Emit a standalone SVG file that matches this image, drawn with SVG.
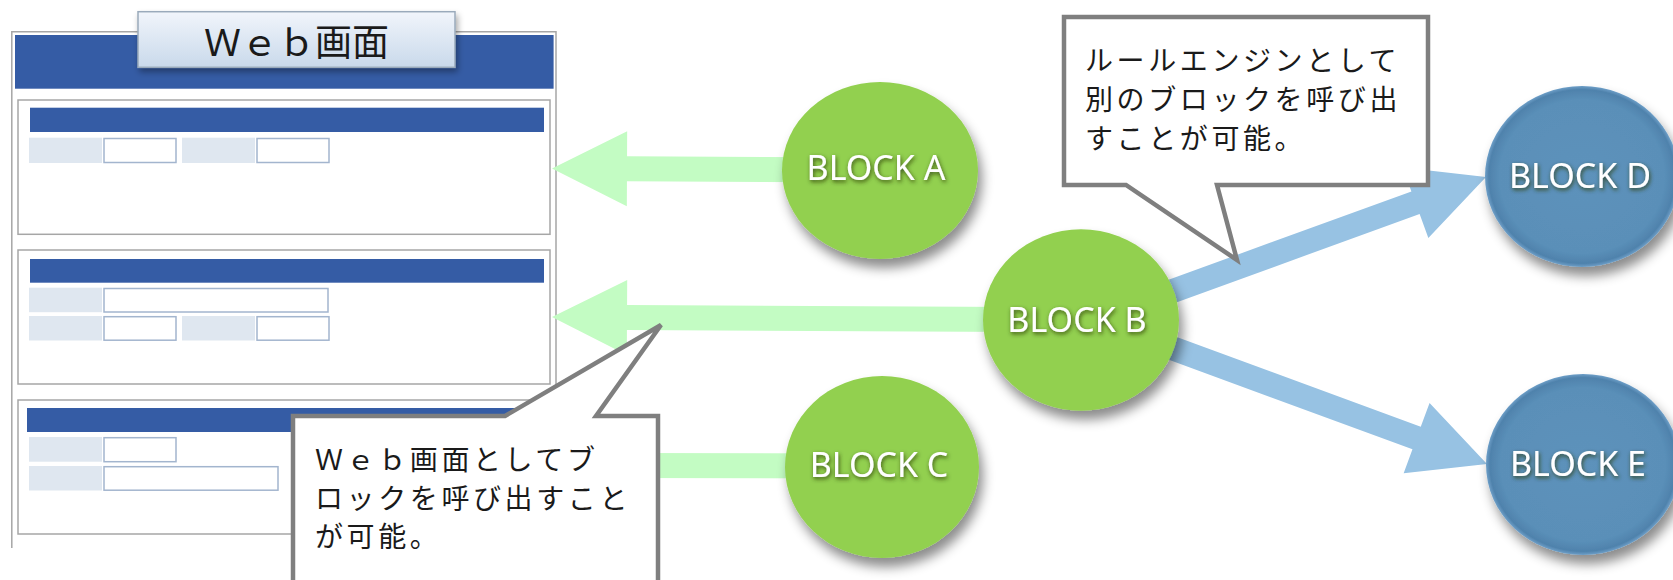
<svg xmlns="http://www.w3.org/2000/svg" width="1673" height="580" viewBox="0 0 1673 580">
<defs>
<style>
.frame{fill:none;stroke:#A6A6A6;stroke-width:1.5}
.panel{fill:#fff;stroke:#A6A6A6;stroke-width:1.5}
.bar{fill:#355CA5}
.lbl{fill:#DFE7F0}
.inp{fill:#fff;stroke:#A3B5CE;stroke-width:1.5}
.garrow{fill:#C3FCC3}
.barrow{fill:#97C2E3}
.callout{fill:#fff;stroke:#7F7F7F;stroke-width:4.5;stroke-linejoin:miter}
.jp{font-family:"Noto Sans CJK JP","Noto Sans CJK SC",sans-serif;fill:#1a1a1a}
.ctext{font-size:28px;letter-spacing:3.6px}
.blk{font-family:"Noto Sans","Liberation Sans",sans-serif;font-size:34px;fill:#fff;text-anchor:middle}
</style>
<linearGradient id="titleGrad" x1="0" y1="0" x2="0" y2="1">
<stop offset="0" stop-color="#F1F5FB"/>
<stop offset="1" stop-color="#C9D9EB"/>
</linearGradient>
<radialGradient id="blueGrad" cx="0.5" cy="0.5" r="0.5">
<stop offset="0" stop-color="#5D92BB"/>
<stop offset="0.85" stop-color="#5A8FB8"/>
<stop offset="0.96" stop-color="#4F82AC"/>
<stop offset="1" stop-color="#6E9FC8"/>
</radialGradient>
<filter id="shadow" x="-30%" y="-30%" width="160%" height="170%">
<feDropShadow dx="4" dy="9" stdDeviation="6" flood-color="#000" flood-opacity="0.45"/>
</filter>
<filter id="tshadow" x="-20%" y="-40%" width="140%" height="180%">
<feDropShadow dx="1" dy="2" stdDeviation="2" flood-color="#2a3a10" flood-opacity="0.85"/>
</filter>
<filter id="boxshadow" x="-10%" y="-20%" width="120%" height="160%">
<feDropShadow dx="2" dy="4" stdDeviation="3" flood-color="#000" flood-opacity="0.35"/>
</filter>
</defs>

<g id="web-screen">
<path class="frame" d="M11.8 548 V31.7 H556 V548"/>
<rect class="bar" x="15" y="35" width="538.6" height="53.7"/>
<g id="panel-1">
<rect class="panel" x="18" y="100" width="532" height="134.3"/>
<rect class="bar" x="30" y="107.7" width="514" height="24.3"/>
<rect class="lbl" x="29" y="137.7" width="73" height="25.3"/>
<rect class="inp" x="104" y="138.5" width="72" height="24"/>
<rect class="lbl" x="182" y="137.7" width="73" height="25.3"/>
<rect class="inp" x="257" y="138.5" width="72" height="24"/>
</g>
<g id="panel-2">
<rect class="panel" x="18" y="250" width="532" height="134"/>
<rect class="bar" x="30" y="259" width="514" height="23.7"/>
<rect class="lbl" x="29" y="287.7" width="73" height="24.5"/>
<rect class="inp" x="104" y="288.5" width="224" height="23.5"/>
<rect class="lbl" x="29" y="316" width="73" height="24.5"/>
<rect class="inp" x="104" y="316.7" width="72" height="23.5"/>
<rect class="lbl" x="182" y="316" width="73" height="24.5"/>
<rect class="inp" x="257" y="316.7" width="72" height="23.5"/>
</g>
<g id="panel-3">
<rect class="panel" x="18" y="400" width="532" height="134"/>
<rect class="bar" x="27" y="408" width="517" height="24"/>
<rect class="lbl" x="29" y="437" width="73" height="24.7"/>
<rect class="inp" x="104" y="437.7" width="72" height="24"/>
<rect class="lbl" x="29" y="466" width="73" height="24.5"/>
<rect class="inp" x="104" y="466.7" width="174" height="23.5"/>
</g>
</g>

<g id="title">
<rect x="138" y="11.7" width="317" height="55.6" fill="url(#titleGrad)" stroke="#9AAABB" stroke-width="1.5" filter="url(#boxshadow)"/>
<text class="jp" x="204" y="56" font-size="37">Ｗｅｂ画面</text>
</g>

<g id="connectors">
<path class="garrow" transform="translate(552 168.5) rotate(180.26)" d="M0 0 L-75 -37.5 L-75 -12.5 L-328 -12.5 L-328 12.5 L-75 12.5 L-75 37.5 Z"/>
<path class="garrow" transform="translate(552 317) rotate(180.32)" d="M0 0 L-75 -37.5 L-75 -12.5 L-529 -12.5 L-529 12.5 L-75 12.5 L-75 37.5 Z"/>
<path class="garrow" transform="translate(552 465.5) rotate(180.09)" d="M0 0 L-75 -37.5 L-75 -12.5 L-330 -12.5 L-330 12.5 L-75 12.5 L-75 37.5 Z"/>
<path class="barrow" transform="translate(1486 177) rotate(-20)" d="M0 0 L-75 -37.5 L-75 -12 L-430 -12 L-430 12 L-75 12 L-75 37.5 Z"/>
<path class="barrow" transform="translate(1487 464) rotate(20.2)" d="M0 0 L-75 -37.5 L-75 -12 L-430 -12 L-430 12 L-75 12 L-75 37.5 Z"/>
</g>

<g id="block-a">
<ellipse cx="880" cy="170.5" rx="98" ry="88.5" fill="#92D050" filter="url(#shadow)"/>
<text class="blk" x="876" y="180" filter="url(#tshadow)">BLOCK A</text>
</g>
<g id="block-b">
<ellipse cx="1081" cy="320" rx="98" ry="90.7" fill="#92D050" filter="url(#shadow)"/>
<text class="blk" x="1077" y="332" filter="url(#tshadow)">BLOCK B</text>
</g>
<g id="block-c">
<ellipse cx="882" cy="467" rx="97" ry="91" fill="#92D050" filter="url(#shadow)"/>
<text class="blk" x="879" y="477" filter="url(#tshadow)">BLOCK C</text>
</g>
<g id="block-d">
<ellipse cx="1582" cy="176.5" rx="97" ry="90.5" fill="url(#blueGrad)" filter="url(#shadow)"/>
<text class="blk" x="1580" y="188" filter="url(#tshadow)">BLOCK D</text>
</g>
<g id="block-e">
<ellipse cx="1583" cy="464.5" rx="97" ry="90.5" fill="url(#blueGrad)" filter="url(#shadow)"/>
<text class="blk" x="1578" y="476" filter="url(#tshadow)">BLOCK E</text>
</g>

<g id="callout-web">
<path class="callout" d="M293 416 H505 L661 325 L596 416 H658 V600 H293 Z"/>
<text class="jp ctext" x="315" y="470">Ｗｅｂ画面としてブ</text>
<text class="jp ctext" x="315" y="509">ロックを呼び出すこと</text>
<text class="jp ctext" x="315" y="547">が可能。</text>
</g>

<g id="callout-rule">
<path class="callout" d="M1064 17 H1428 V185 H1217 L1237 260 L1126 185 H1064 Z"/>
<text class="jp ctext" x="1085" y="71">ルールエンジンとして</text>
<text class="jp ctext" x="1085" y="110">別のブロックを呼び出</text>
<text class="jp ctext" x="1085" y="149">すことが可能。</text>
</g>
</svg>
